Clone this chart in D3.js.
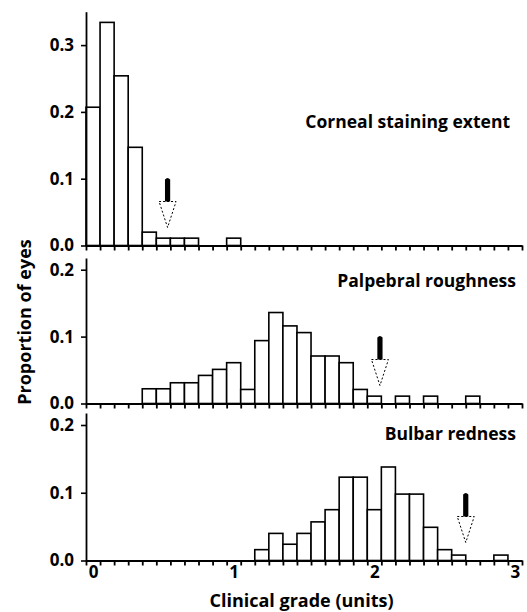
<!DOCTYPE html>
<html>
<head>
<meta charset="utf-8">
<script src="https://cdn.jsdelivr.net/npm/d3@7"></script>
<style>
  html, body { margin: 0; padding: 0; background: #fff; }
  svg { display: block; }
  text { font-family: "Open Sans", sans-serif; font-weight: 700; fill: #000; }
</style>
</head>
<body>
<svg id="chart" width="527" height="612"></svg>
<script>
// ---- data ----
const panelNames = ["Corneal staining extent", "Palpebral roughness", "Bulbar redness"];
// proportion of eyes per 0.1-unit grade bin, bin centres 0.0, 0.1, 0.2, ...
const cornealValues = [0.207, 0.334, 0.254, 0.147, 0.020, 0.011, 0.011, 0.011, 0, 0, 0.011];
const palpebralValues = [0, 0, 0, 0, 0.022, 0.022, 0.031, 0.031, 0.042, 0.051, 0.061, 0.021,
  0.094, 0.136, 0.116, 0.106, 0.071, 0.071, 0.061, 0.021, 0.011, 0, 0.011, 0, 0.011, 0, 0, 0.011];
const bulbarValues = [0, 0, 0, 0, 0, 0, 0, 0, 0, 0, 0, 0,
  0.016, 0.040, 0.024, 0.040, 0.057, 0.075, 0.123, 0.123, 0.075, 0.138, 0.098, 0.098,
  0.049, 0.016, 0.008, 0, 0, 0.008];
const arrowValues = [0.53, 2.04, 2.65];   // marked grade (arrow) per panel
const yTickLabels = [[0, 0.1, 0.2, 0.3], [0, 0.1, 0.2], [0, 0.1, 0.2]];
const xTickLabels = [0, 1, 2, 3];
const binWidth = 0.1;

// ---- layout ----
const svg = d3.select("#chart");
const x = d3.scaleLinear().domain([-0.05, 3.05]).range([86, 522]);
const panels = [
  { values: cornealValues, y: d3.scaleLinear().domain([0, 0.35]).range([245.5, 11.7]), labelY: 128, labelX: 510 },
  { values: palpebralValues, y: d3.scaleLinear().domain([0, 0.2175]).range([403.5, 258]), labelY: 287, labelX: 516 },
  { values: bulbarValues, y: d3.scaleLinear().domain([0, 0.2177]).range([560.5, 413]), labelY: 440, labelX: 516 }
];
const edges = d3.range(0, 32).map(i => -0.05 + i * 0.1);

panels.forEach((p, pi) => {
  const g = svg.append("g");
  const base = p.y(0);

  // bars
  const bars = p.values.map((v, i) => ({ c: i * binWidth, v })).filter(d => d.v > 0);
  g.selectAll("rect.bar").data(bars).enter().append("rect")
    .attr("class", "bar")
    .attr("x", d => x(d.c - binWidth / 2))
    .attr("width", d => x(d.c + binWidth / 2) - x(d.c - binWidth / 2))
    .attr("y", d => p.y(d.v))
    .attr("height", d => base - p.y(d.v))
    .attr("fill", "#fff")
    .attr("stroke", "#000")
    .attr("stroke-width", 1.6);

  // x axis (ticks at bin edges)
  const xa = g.append("g").attr("transform", `translate(0,${base})`)
    .call(d3.axisBottom(x).tickValues(edges).tickSize(5).tickSizeOuter(0).tickFormat(""));
  xa.select(".domain").attr("stroke-width", 2);
  xa.selectAll(".tick line").attr("stroke-width", 1.8);

  // y axis
  const ya = g.append("g").attr("transform", `translate(${x(-0.05)},0)`)
    .call(d3.axisLeft(p.y).tickValues(yTickLabels[pi]).tickSize(5).tickSizeOuter(0)
      .tickPadding(7).tickFormat(d3.format(".1f")));
  ya.select(".domain").attr("stroke-width", 1.8);
  ya.selectAll(".tick line").attr("stroke-width", 1.6);
  ya.selectAll(".tick text").style("font-size", "17px").attr("font-family", null);

  // panel title
  g.append("text")
    .attr("x", p.labelX).attr("y", p.labelY)
    .attr("text-anchor", "end")
    .style("font-size", "17.5px")
    .text(panelNames[pi]);

  // arrow marker
  const ax = x(arrowValues[pi]);
  const shaftTop = base - 68, shaftBot = base - 44, tip = base - 18;
  g.append("path")
    .attr("d", `M${ax - 2.6},${shaftBot} L${ax - 2.6},${shaftTop + 2} Q${ax},${shaftTop - 1} ${ax + 2.6},${shaftTop + 2} L${ax + 2.6},${shaftBot} Z`)
    .attr("fill", "#000");
  g.append("path")
    .attr("d", `M${ax - 8.5},${shaftBot} L${ax + 8.5},${shaftBot} L${ax},${tip} Z`)
    .attr("fill", "none")
    .attr("stroke", "#000")
    .attr("stroke-width", 1)
    .attr("stroke-dasharray", "2,2");

  // bottom panel: grade labels
  if (pi === panels.length - 1) {
    const la = g.append("g").attr("transform", `translate(0,${base})`)
      .call(d3.axisBottom(x).tickValues(xTickLabels).tickSize(0).tickPadding(5.5).tickFormat(d3.format("d")));
    la.select(".domain").remove();
    la.selectAll(".tick text").style("font-size", "17px").attr("font-family", null);
  }
});

// axis titles
svg.append("text")
  .attr("x", 301.5).attr("y", 607)
  .attr("text-anchor", "middle")
  .style("font-size", "18px")
  .text("Clinical grade (units)");

svg.append("text")
  .attr("transform", "translate(31,322) rotate(-90)")
  .attr("text-anchor", "middle")
  .style("font-size", "18px")
  .text("Proportion of eyes");
</script>
</body>
</html>
